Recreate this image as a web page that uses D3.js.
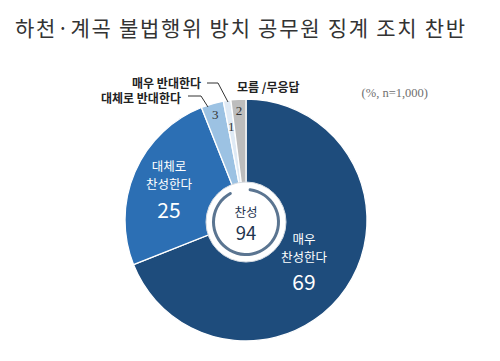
<!DOCTYPE html>
<html><head><meta charset="utf-8">
<script src="https://cdn.jsdelivr.net/npm/d3@7"></script>
<style>body{margin:0;background:#fff}svg{display:block}</style>
</head><body>
<script>
const title = "하천·계곡 불법행위 방치 공무원 징계 조치 찬반";
const note = "(%, n=1,000)";
const categories = ["매우 찬성한다", "대체로 찬성한다", "대체로 반대한다", "매우 반대한다", "모름/무응답"];
const values = [69, 25, 3, 1, 2];
const colors = ["#1e4c7c", "#2c6fb4", "#9cc2e3", "#dfeaf5", "#bdbdbd"];
const innerLines = [["매우", "찬성한다"], ["대체로", "찬성한다"], null, null, null];
const centerLabel = ["찬성", "94"];

const W = 500, H = 361, cx = 246, cy = 220, R = 121;
const svg = d3.select("body").append("svg").attr("width", W).attr("height", H);
const font = "'Noto Sans CJK KR', 'Noto Sans', sans-serif";

svg.append("text").attr("x", 15).attr("y", 27).attr("dominant-baseline", "central")
  .attr("font-family", font).attr("font-size", 21).attr("fill", "#333")
  .attr("textLength", 450).attr("lengthAdjust", "spacing").text(title);

svg.append("text").attr("x", 428).attr("y", 93).attr("text-anchor", "end").attr("dominant-baseline", "central")
  .attr("font-family", "'Liberation Serif', serif").attr("font-size", 12.5).attr("fill", "#6f6f6f").text(note);

const pie = d3.pie().sort(null).value(d => d)(values);
const arc = d3.arc().innerRadius(0).outerRadius(R);
const g = svg.append("g").attr("transform", `translate(${cx},${cy})`);

g.selectAll("path.s").data(pie).join("path").attr("class", "s")
  .attr("d", arc).attr("fill", (d, i) => colors[i]).attr("stroke", "#fff").attr("stroke-width", 1.3);

// inner labels for big slices
const labelR = [70, 84];
pie.forEach((d, i) => {
  if (!innerLines[i]) return;
  const [x, y] = d3.arc().innerRadius(labelR[i]).outerRadius(labelR[i]).centroid(d);
  const t = g.append("g").attr("transform", `translate(${x},${y})`);
  innerLines[i].forEach((ln, k) => {
    t.append("text").attr("y", k === 0 ? -21 : -3).attr("text-anchor", "middle").attr("dominant-baseline", "central")
      .attr("font-family", font).attr("font-size", 12.5).attr("fill", "#fff").text(ln);
  });
  t.append("text").attr("y", 22).attr("text-anchor", "middle").attr("dominant-baseline", "central")
    .attr("font-family", font).attr("font-size", 21).attr("fill", "#fff").text(values[i]);
});

// small slice numbers
const smallR = [0, 0, 110, 95, 110];
pie.forEach((d, i) => {
  if (innerLines[i]) return;
  const [x, y] = d3.arc().innerRadius(smallR[i]).outerRadius(smallR[i]).centroid(d);
  g.append("text").attr("x", x).attr("y", y).attr("text-anchor", "middle").attr("dominant-baseline", "central")
    .attr("font-family", "'Liberation Serif', serif").attr("font-size", 13).attr("fill", "#333").text(values[i]);
});

// center disc
g.append("circle").attr("r", 40).attr("cx", 0).attr("cy", 2).attr("fill", "#fff").attr("stroke", "#d8dde3").attr("stroke-width", 1);
const ringStart = 0.08, ringEnd = 2 * Math.PI * 0.94 - 0.08;
g.append("path").attr("transform", "translate(0,2)")
  .attr("d", d3.arc().innerRadius(31).outerRadius(34).startAngle(ringStart).endAngle(ringEnd).cornerRadius(1.5)())
  .attr("fill", "#5b7591");
g.append("text").attr("x", 0).attr("y", -9).attr("text-anchor", "middle").attr("dominant-baseline", "central")
  .attr("font-family", font).attr("font-size", 12.5).attr("fill", "#1f3550").text(centerLabel[0]);
g.append("text").attr("x", 0).attr("y", 12).attr("text-anchor", "middle").attr("dominant-baseline", "central")
  .attr("font-family", font).attr("font-size", 18.5).attr("fill", "#1f3550").text(centerLabel[1]);

// outside labels with leaders
const lab = svg.append("g").attr("font-family", font).attr("font-size", 12).attr("font-weight", "bold").attr("fill", "#222");
lab.append("text").attr("x", 201).attr("y", 82).attr("text-anchor", "end").attr("dominant-baseline", "central").text(categories[3]);
lab.append("text").attr("x", 181).attr("y", 97).attr("text-anchor", "end").attr("dominant-baseline", "central").text(categories[2]);
lab.append("text").attr("x", 237).attr("y", 86).attr("dominant-baseline", "central").text("모름 /무응답");

const leader = d3.line();
svg.append("path").attr("d", leader([[207, 83], [218, 83], [228, 102]])).attr("fill", "none").attr("stroke", "#333").attr("stroke-width", 1);
svg.append("path").attr("d", leader([[188, 96], [201, 96], [208, 107]])).attr("fill", "none").attr("stroke", "#333").attr("stroke-width", 1);
</script>
</body></html>
